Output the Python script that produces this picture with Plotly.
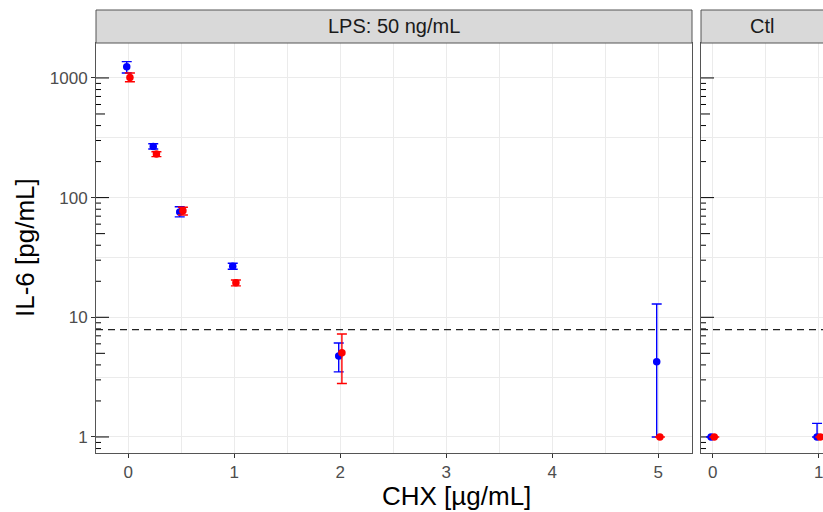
import plotly.graph_objects as go
import numpy as np

# ---------------- data ----------------
lps_x = [0, 0.25, 0.5, 1, 2, 5]
lps_blue_mean = [1240, 268, 76, 26.7, 4.75, 4.25]
lps_blue_lo = [1100, 255, 69, 25.2, 3.5, 1.0]
lps_blue_hi = [1370, 282, 84, 28.3, 6.1, 12.9]
lps_red_mean = [1010, 231, 77.5, 19.4, 5.05, 1.0]
lps_red_lo = [930, 220, 71.5, 18.3, 2.8, 1.0]
lps_red_hi = [1100, 242, 83, 20.5, 7.25, 1.0]

ctl_x = [0, 1]
ctl_blue_mean = [1.0, 1.0]
ctl_blue_lo = [1.0, 1.0]
ctl_blue_hi = [1.0, 1.3]
ctl_red_mean = [1.0, 1.0]
ctl_red_lo = [1.0, 1.0]
ctl_red_hi = [1.0, 1.0]

lod = 7.9
panel_titles = ["LPS: 50 ng/mL", "Ctl"]
y_tickvals = [1, 10, 100, 1000]
y_ticktext = ["1", "10", "100", "1000"]

# ---------------- layout geometry ----------------
W, H = 823, 512
ML, MR, MT, MB = 96, 0, 43, 59
PW = W - ML - MR
PH = H - MT - MB
left_dom = [0, (692 - ML) / PW]
right_dom = [(701 - ML) / PW, 1.0]
x1_range = [-0.305, 5.318]
x2_range = [-0.110, 1.041]
y_range = [-0.134, 3.292]
px_per_unit = (left_dom[1] - left_dom[0]) * PW / (x1_range[1] - x1_range[0])
dodge = 0.015

BLUE = "#0000FF"
RED = "#FF0000"
FONT = "Liberation Sans, Arial, sans-serif"

fig = go.Figure()


def add_series(x, mean, lo, hi, color, xa, ya, off):
    xs = [v + off for v in x]
    fig.add_trace(go.Scatter(
        x=xs, y=mean, mode="markers", xaxis=xa, yaxis=ya,
        marker=dict(color=color, size=7.5, line=dict(width=0)),
        error_y=dict(type="data", symmetric=False,
                     array=[h - m for h, m in zip(hi, mean)],
                     arrayminus=[m - l for m, l in zip(mean, lo)],
                     color=color, thickness=1.4, width=5),
        showlegend=False, cliponaxis=False, hoverinfo="x+y"))


def add_logticks(xa, ya, xr):
    xs, ys = [], []
    for d in range(-1, 4):
        for m in range(1, 10):
            v = m * 10 ** d
            lv = np.log10(v)
            if lv < y_range[0] or lv > y_range[1]:
                continue
            L = 13 if m == 1 else (9 if m == 5 else 5)
            xs += [xr[0], xr[0] + L / px_per_unit, None]
            ys += [v, v, None]
    fig.add_trace(go.Scatter(x=xs, y=ys, mode="lines", xaxis=xa, yaxis=ya,
                             line=dict(color="black", width=1),
                             showlegend=False, hoverinfo="skip"))


def add_lod(xa, ya, xr):
    fig.add_trace(go.Scatter(x=[xr[0], xr[1]], y=[lod, lod], mode="lines",
                             xaxis=xa, yaxis=ya,
                             line=dict(color="#222222", width=1.3, dash="7px,5px"),
                             showlegend=False, hoverinfo="skip"))


add_logticks("x", "y", x1_range)
add_logticks("x2", "y2", x2_range)
add_lod("x", "y", x1_range)
add_lod("x2", "y2", x2_range)
add_series(lps_x, lps_blue_mean, lps_blue_lo, lps_blue_hi, BLUE, "x", "y", -dodge)
add_series(lps_x, lps_red_mean, lps_red_lo, lps_red_hi, RED, "x", "y", dodge)
add_series(ctl_x, ctl_blue_mean, ctl_blue_lo, ctl_blue_hi, BLUE, "x2", "y2", -dodge)
add_series(ctl_x, ctl_red_mean, ctl_red_lo, ctl_red_hi, RED, "x2", "y2", dodge)

GRID = "#EBEBEB"
BORDER = "#555555"
TICKC = "#333333"
TICKFONT = dict(family=FONT, size=17, color="#4D4D4D")

xcommon = dict(showgrid=True, gridcolor=GRID, gridwidth=1.3, zeroline=False,
               showline=True, linecolor=BORDER, linewidth=1, mirror=True,
               ticks="outside", ticklen=4, tickcolor=TICKC, tickwidth=1,
               tickfont=TICKFONT, dtick=1, tick0=0, ticklabeloverflow="allow",
               minor=dict(dtick=0.5, tick0=0, showgrid=True, gridcolor=GRID,
                          gridwidth=0.7, ticklen=0))
ycommon = dict(type="log", range=y_range, showgrid=True, gridcolor=GRID, gridwidth=1.3,
               zeroline=False, showline=True, linecolor=BORDER, linewidth=1,
               tickmode="array", tickvals=y_tickvals,
               minor=dict(tickmode="array",
                          tickvals=[10 ** (k + 0.5) for k in range(-1, 4)],
                          showgrid=True, gridcolor=GRID, gridwidth=0.7, ticklen=0))

fig.update_layout(
    width=W, height=H,
    margin=dict(l=ML, r=MR, t=MT, b=MB),
    paper_bgcolor="white", plot_bgcolor="white",
    font=dict(family=FONT),
    xaxis=dict(domain=left_dom, range=x1_range, anchor="y", **xcommon),
    xaxis2=dict(domain=right_dom, range=x2_range, anchor="y2", **xcommon),
    yaxis=dict(anchor="x", ticktext=y_ticktext, mirror=True, ticks="outside",
               ticklen=4, tickcolor=TICKC, tickwidth=1, tickfont=TICKFONT, **ycommon),
    yaxis2=dict(anchor="x2", matches="y", showticklabels=False, mirror=False,
                ticks="", **ycommon),
    hovermode="closest",
)

# strips
strip_y0 = 1.0
strip_y1 = (H - MB - 10) / PH
for dom, title in zip([left_dom, [right_dom[0], 1.02]], panel_titles):
    fig.add_shape(type="rect", xref="paper", yref="paper",
                  x0=dom[0], x1=dom[1], y0=strip_y0, y1=strip_y1,
                  fillcolor="#D9D9D9", line=dict(color=BORDER, width=1), layer="above")
for dom, title in zip([left_dom, right_dom], panel_titles):
    fig.add_annotation(text=title, xref="paper", yref="paper",
                       x=(dom[0] + dom[1]) / 2, y=(strip_y0 + strip_y1) / 2,
                       showarrow=False, xanchor="center", yanchor="middle",
                       font=dict(family=FONT, size=20, color="#1A1A1A"))

# axis titles
fig.add_annotation(text="CHX [µg/mL]", xref="paper", yref="paper",
                   x=(456 - ML) / PW, y=-(496 - (H - MB)) / PH, showarrow=False,
                   xanchor="center", yanchor="middle",
                   font=dict(family=FONT, size=26, color="black"))
fig.add_annotation(text="IL-6 [pg/mL]", xref="paper", yref="paper",
                   x=(25 - ML) / PW, y=0.5, showarrow=False, textangle=-90,
                   xanchor="center", yanchor="middle",
                   font=dict(family=FONT, size=26, color="black"))

fig.write_html("out.html", config={"displayModeBar": False},
               post_script="document.body.style.margin='0';document.body.style.overflow='hidden';")
